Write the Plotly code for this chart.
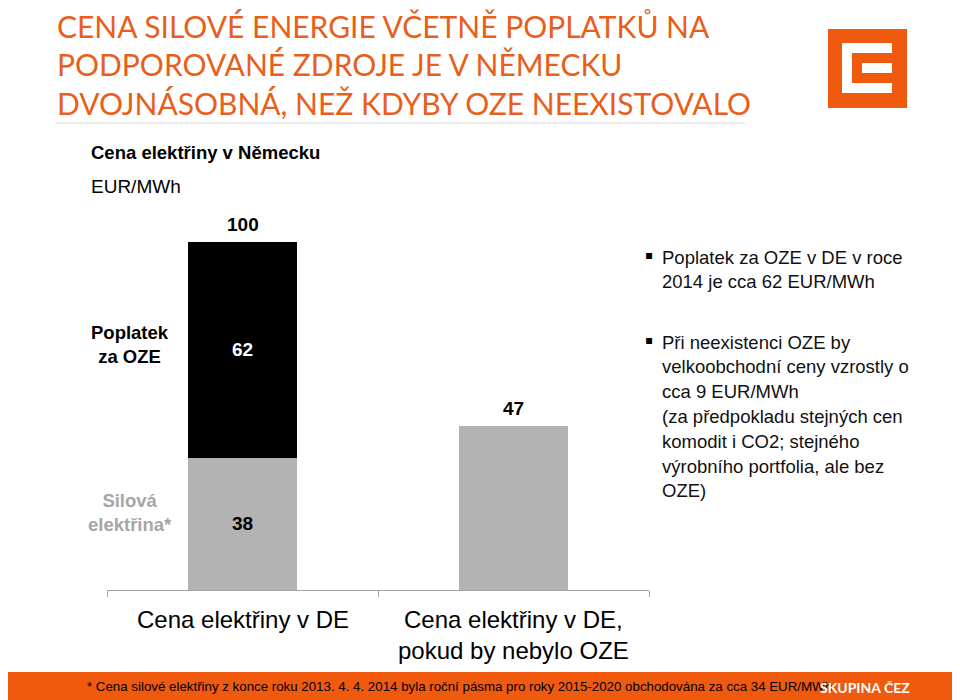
import plotly.graph_objects as go

# ---------------- data ----------------
categories = ["Cena elektřiny v DE", "Cena elektřiny v DE,<br>pokud by nebylo OZE"]
silova = [38, 47]            # Silová elektřina*
poplatek = [62, None]        # Poplatek za OZE
series_labels = ["Silová<br>elektřina*", "Poplatek<br>za OZE"]

title_lines = [
    "CENA SILOVÉ ENERGIE VČETNĚ POPLATKŮ NA",
    "PODPOROVANÉ ZDROJE JE V NĚMECKU",
    "DVOJNÁSOBNÁ, NEŽ KDYBY OZE NEEXISTOVALO",
]
subtitle = "Cena elektřiny v Německu"
unit = "EUR/MWh"
bullet1 = ["Poplatek za OZE v DE v roce", "2014 je cca 62 EUR/MWh"]
bullet2 = ["Při neexistenci OZE by", "velkoobchodní ceny vzrostly o", "cca 9 EUR/MWh",
           "(za předpokladu stejných cen", "komodit i CO2; stejného",
           "výrobního portfolia, ale bez", "OZE)"]
footnote = ("* Cena silové elektřiny z konce roku 2013. 4. 4. 2014 byla roční pásma "
            "pro roky 2015-2020 obchodována za cca 34 EUR/MWh")
brand = "SKUPINA ČEZ"

# ---------------- styling ----------------
OFF = 8                       # page body margin
W, H = 960 - OFF, 700 - OFF
ORANGE = "#F05A0F"
TITLE_ORANGE = "#E85F1C"
GRAY = "#B3B3B3"
ARIAL = "Liberation Sans, Arial, sans-serif"


def px(x):
    return (x - OFF) / W


def py(y):
    return 1 - (y - OFF) / H


fig = go.Figure()

silova_text = [str(v) if p is not None else "" for v, p in zip(silova, poplatek)]
poplatek_text = [str(p) if p is not None else "" for p in poplatek]

fig.add_trace(go.Bar(
    x=categories, y=silova, marker=dict(color=GRAY, line=dict(width=0)),
    text=silova_text, textposition="inside", insidetextanchor="middle",
    textangle=0, textfont=dict(family=ARIAL, size=19, color="#000000", weight="bold"),
    hoverinfo="skip", showlegend=False,
))
fig.add_trace(go.Bar(
    x=categories, y=poplatek, marker=dict(color="#000000", line=dict(width=0)),
    text=poplatek_text, textposition="inside", insidetextanchor="middle",
    textangle=0, textfont=dict(family=ARIAL, size=19, color="#FFFFFF", weight="bold"),
    hoverinfo="skip", showlegend=False,
))

annotations = []
# totals above bars
totals = [s + (p or 0) for s, p in zip(silova, poplatek)]
for c, t in zip(categories, totals):
    annotations.append(dict(x=c, y=t, xref="x", yref="y", text=str(t), showarrow=False,
                            xanchor="center", yanchor="bottom", yshift=5,
                            font=dict(family=ARIAL, size=19, color="#000000", weight="bold")))

# category labels under axis
for c in categories:
    annotations.append(dict(x=c, y=py(604), xref="x", yref="paper", text=c, showarrow=False,
                            xanchor="center", yanchor="top", align="center",
                            font=dict(family=ARIAL, size=24, color="#000000")))

# series labels on the left
annotations.append(dict(x=px(130), y=py(512), xref="paper", yref="paper", text=series_labels[0],
                        showarrow=False, align="center", xanchor="center", yanchor="middle",
                        font=dict(family=ARIAL, size=18.5, color="#A6A6A6", weight="bold")))
annotations.append(dict(x=px(130), y=py(344), xref="paper", yref="paper", text=series_labels[1],
                        showarrow=False, align="center", xanchor="center", yanchor="middle",
                        font=dict(family=ARIAL, size=18.5, color="#000000", weight="bold")))

# title
title_y = [26, 64.5, 103]
for line, ty in zip(title_lines, title_y):
    annotations.append(dict(x=px(55), y=py(ty), xref="paper", yref="paper", text=line,
                            showarrow=False, xanchor="left", yanchor="middle",
                            font=dict(family="Lato, sans-serif", size=30, color=TITLE_ORANGE)))

# subtitle
annotations.append(dict(x=px(89), y=py(152), xref="paper", yref="paper", text=subtitle,
                        showarrow=False, xanchor="left", yanchor="middle",
                        font=dict(family=ARIAL, size=18.5, color="#000000", weight="bold")))
annotations.append(dict(x=px(89), y=py(186), xref="paper", yref="paper", text=unit,
                        showarrow=False, xanchor="left", yanchor="middle",
                        font=dict(family=ARIAL, size=19, color="#000000")))


# bullets
def add_bullet(lines, y0):
    annotations.append(dict(x=px(643), y=py(y0 - 2), xref="paper", yref="paper", text="▪",
                            showarrow=False, xanchor="left", yanchor="middle",
                            font=dict(family="DejaVu Sans, sans-serif", size=12, color="#000000")))
    for k, ln in enumerate(lines):
        annotations.append(dict(x=px(660), y=py(y0 + 24.8 * k), xref="paper", yref="paper",
                                text=ln, showarrow=False, xanchor="left", yanchor="middle",
                                font=dict(family=ARIAL, size=18.5, color="#111111")))


add_bullet(bullet1, 257)
add_bullet(bullet2, 342)

# footer
annotations.append(dict(x=px(459), y=py(686), xref="paper", yref="paper", text=footnote,
                        showarrow=False, xanchor="center", yanchor="middle",
                        font=dict(family=ARIAL, size=13.3, color="#000000")))
annotations.append(dict(x=px(865), y=py(687), xref="paper", yref="paper", text=brand,
                        showarrow=False, xanchor="center", yanchor="middle",
                        font=dict(family="Lato, sans-serif", size=14, color="#FFFFFF", weight="bold")))

shapes = [
    # title underline
    dict(type="line", xref="paper", yref="paper", x0=px(55), x1=px(745), y0=py(123), y1=py(123),
         line=dict(color="#D9D9D9", width=1)),
    # footer bar
    dict(type="rect", xref="paper", yref="paper", x0=0, x1=1, y0=0, y1=py(672),
         fillcolor=ORANGE, line=dict(width=0), layer="below"),
    # logo
    dict(type="rect", xref="paper", yref="paper", x0=px(828), x1=px(907), y0=py(108), y1=py(29),
         fillcolor=ORANGE, line=dict(width=0)),
    dict(type="rect", xref="paper", yref="paper", x0=px(842), x1=px(892), y0=py(93), y1=py(43),
         fillcolor="#FFFFFF", line=dict(width=0)),
    dict(type="rect", xref="paper", yref="paper", x0=px(852), x1=px(892), y0=py(83), y1=py(53),
         fillcolor=ORANGE, line=dict(width=0)),
    dict(type="rect", xref="paper", yref="paper", x0=px(862), x1=px(892), y0=py(73), y1=py(63),
         fillcolor="#FFFFFF", line=dict(width=0)),
]

fig.update_layout(
    width=W, height=H, autosize=False,
    margin=dict(l=0, r=0, t=0, b=0),
    paper_bgcolor="#FFFFFF", plot_bgcolor="#FFFFFF",
    barmode="stack", bargap=0.6,
    xaxis=dict(type="category", domain=[px(107), px(649)], range=[-0.5, 1.5],
               tickson="boundaries", ticks="outside", ticklen=6, tickcolor="#A6A6A6",
               showline=True, linecolor="#A6A6A6", linewidth=1,
               showticklabels=False, showgrid=False, zeroline=False, fixedrange=True),
    yaxis=dict(range=[0, 100], domain=[py(590), py(242)], visible=False, fixedrange=True),
    annotations=annotations, shapes=shapes,
    showlegend=False,
)

fig.write_html("out.html")
